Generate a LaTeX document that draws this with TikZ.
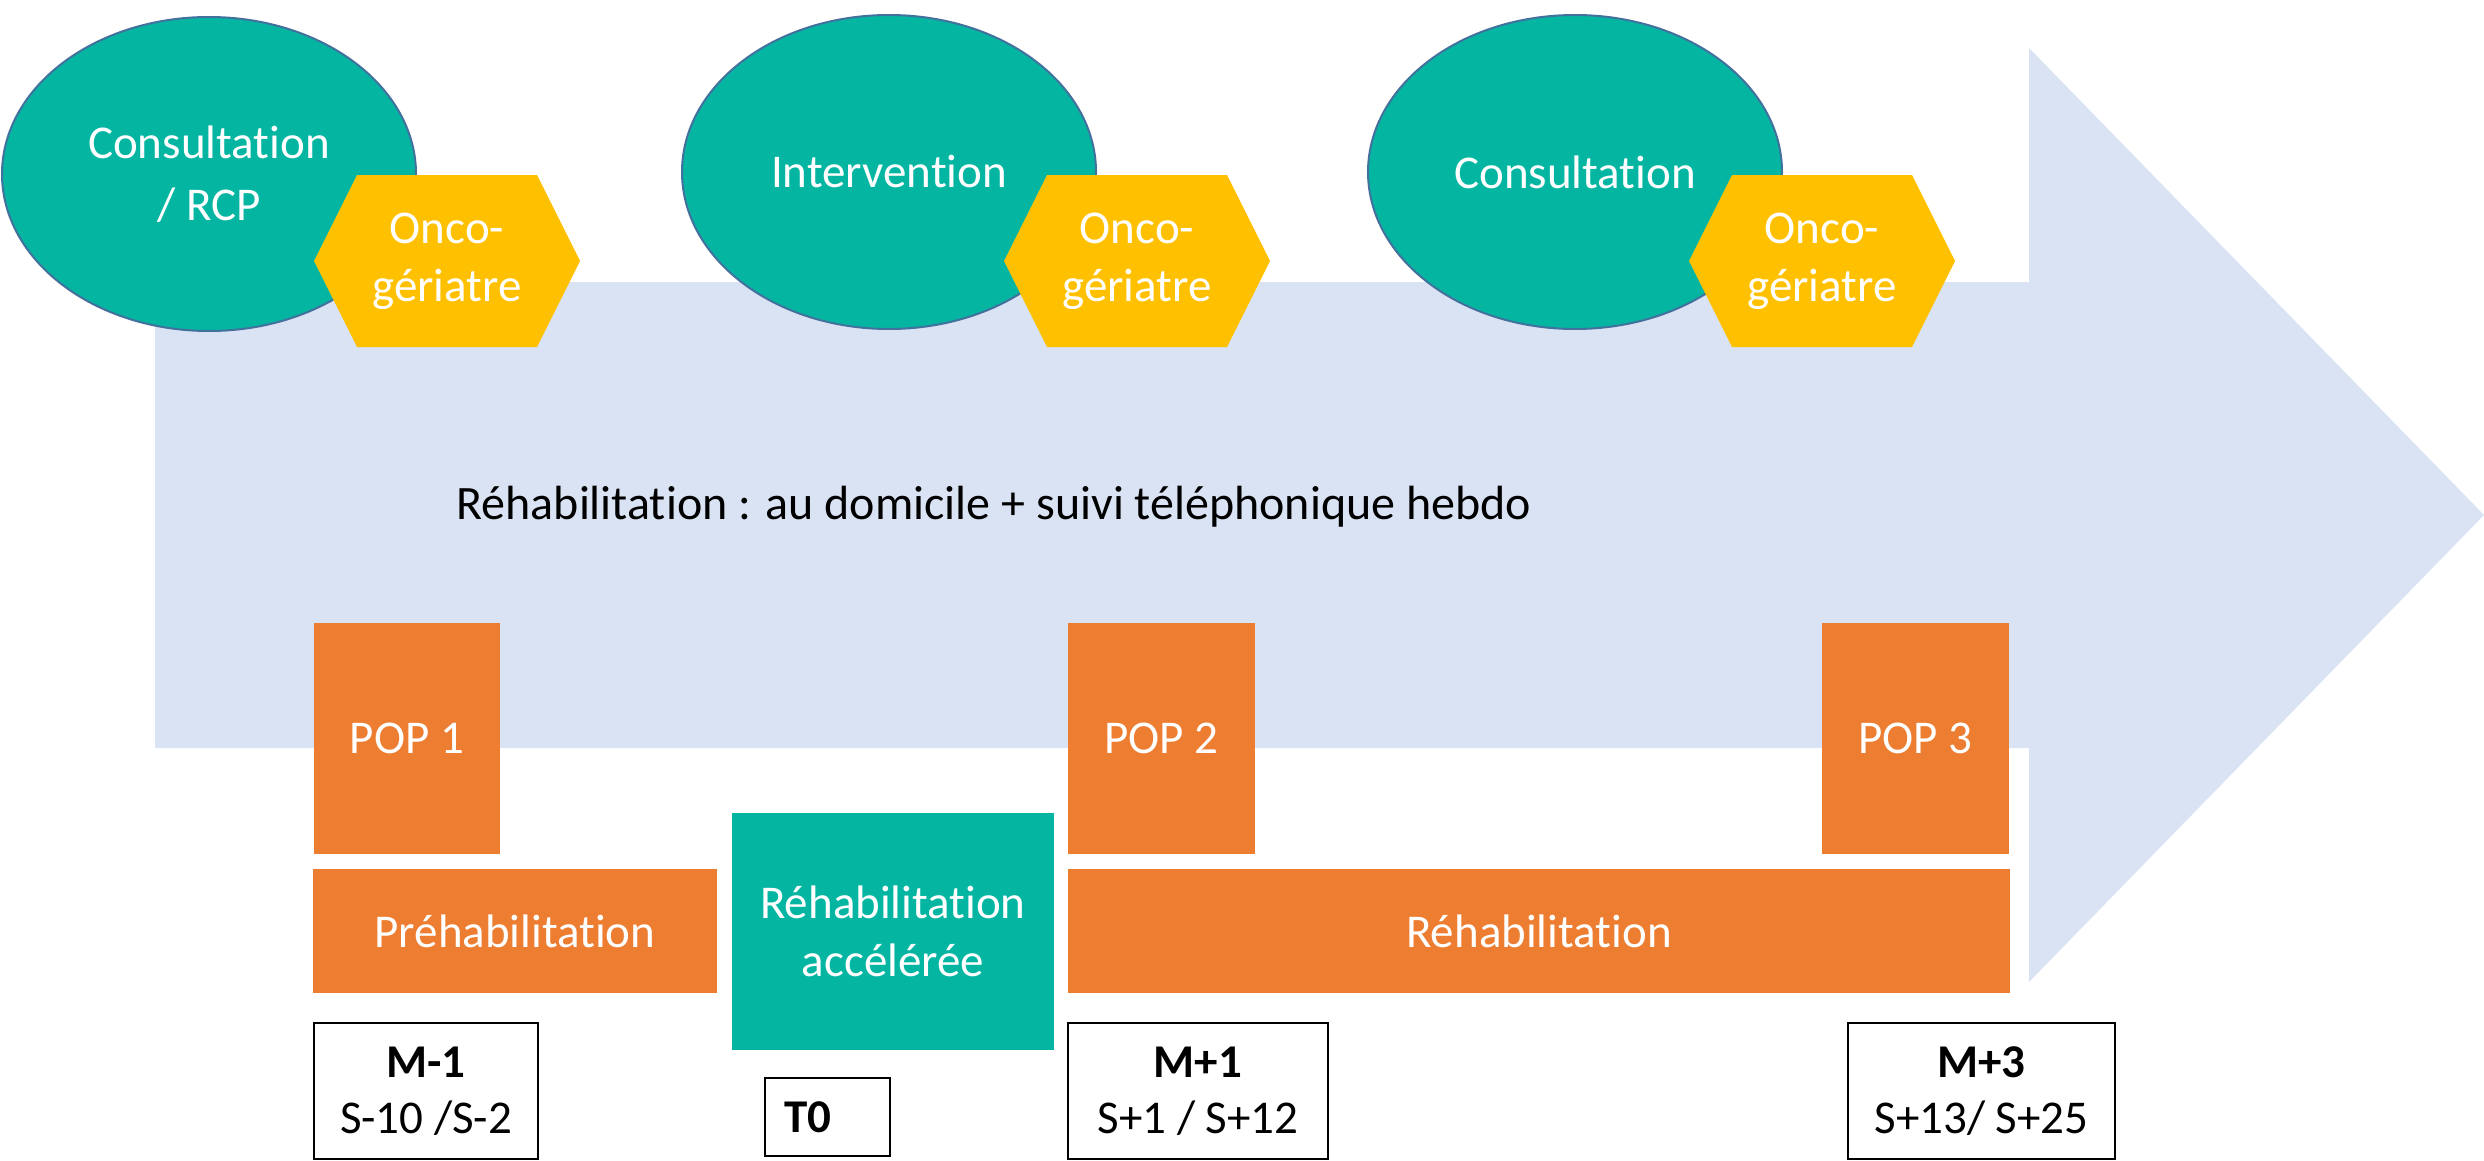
\documentclass[tikz,border=0pt]{standalone}
\usepackage{fontspec}
\setmainfont[Ligatures=CommonOff]{Carlito}
\usetikzlibrary{shapes.geometric}
\definecolor{arrowblue}{RGB}{218,227,243}
\definecolor{tealvisit}{RGB}{4,182,162}
\definecolor{tealedge}{RGB}{65,113,156}
\definecolor{geriyellow}{RGB}{255,192,0}
\definecolor{poporange}{RGB}{237,125,49}
\begin{document}
\begin{tikzpicture}[x=.5pt,y=-.5pt,
  visit/.style={ellipse,fill=tealvisit,draw=tealedge,line width=1pt,minimum width=207pt,minimum height=157pt,inner sep=0pt,text=white,align=center,font=\fontsize{23.5}{31}\selectfont},
  geri/.style={fill=geriyellow},
  gerilabel/.style={inner sep=0pt,text=white,align=center,font=\fontsize{23.5}{29}\selectfont},
  popbox/.style={rectangle,fill=poporange,inner sep=0pt,text=white,align=center,font=\fontsize{23.5}{29}\selectfont},
  datebox/.style={rectangle,draw=black,line width=1.2pt,fill=white,inner sep=0pt,align=center,font=\fontsize{23.5}{28}\selectfont}]
\path[use as bounding box] (0,0) rectangle (2484,1161);
% fleche de fond
\path[fill=arrowblue] (155,282) -- (2029,282) -- (2029,48) -- (2484,515) -- (2029,982) -- (2029,748) -- (155,748) -- cycle;
\node[anchor=center,inner sep=0pt,font=\fontsize{24}{28}\selectfont] (suivi) at (994,507) {Réhabilitation : au domicile + suivi téléphonique hebdo};
% consultations
\node[visit] (consult1) at (209,174) {Consultation\\/ RCP};
\node[visit] (interv) at (889,172) {Intervention};
\node[visit] (consult2) at (1575,172) {Consultation};
\foreach \cx/\nm in {447/geri1,1137/geri2,1822/geri3}{
  \path[geri] (\cx-133,261) -- (\cx-90,175) -- (\cx+90,175) -- (\cx+133,261) -- (\cx+90,347) -- (\cx-90,347) -- cycle;
  \node[gerilabel] (\nm) at (\cx,261) {Onco-\\gériatre};
}
% parcours
\node[popbox,minimum width=93pt,minimum height=115.5pt] (pop1) at (407,738.5) {POP 1};
\node[popbox,minimum width=93.5pt,minimum height=115.5pt] (pop2) at (1161.5,738.5) {POP 2};
\node[popbox,minimum width=93.5pt,minimum height=115.5pt] (pop3) at (1915.5,738.5) {POP 3};
\node[popbox,minimum width=202pt,minimum height=62pt] (prehab) at (515,931) {Préhabilitation};
\node[popbox,fill=tealvisit,minimum width=161pt,minimum height=118.5pt] (raac) at (893,931.5) {Réhabilitation\\accélérée};
\node[popbox,minimum width=471pt,minimum height=62pt] (rehab) at (1539,931) {Réhabilitation};
% reperes
\node[datebox,minimum width=112pt,minimum height=68pt] (m1) at (426,1091) {\textbf{M-1}\\S-10 /S-2};
\node[datebox,minimum width=62.5pt,minimum height=39pt,inner xsep=9.5pt,text width=43.5pt,align=left] (t0) at (827.5,1117) {\textbf{T0}};
\node[datebox,minimum width=130pt,minimum height=68pt] (mp1) at (1198,1091) {\textbf{M+1}\\S+1 / S+12};
\node[datebox,minimum width=133.5pt,minimum height=68pt] (mp3) at (1981.5,1091) {\textbf{M+3}\\S+13/ S+25};
\end{tikzpicture}
\end{document}
